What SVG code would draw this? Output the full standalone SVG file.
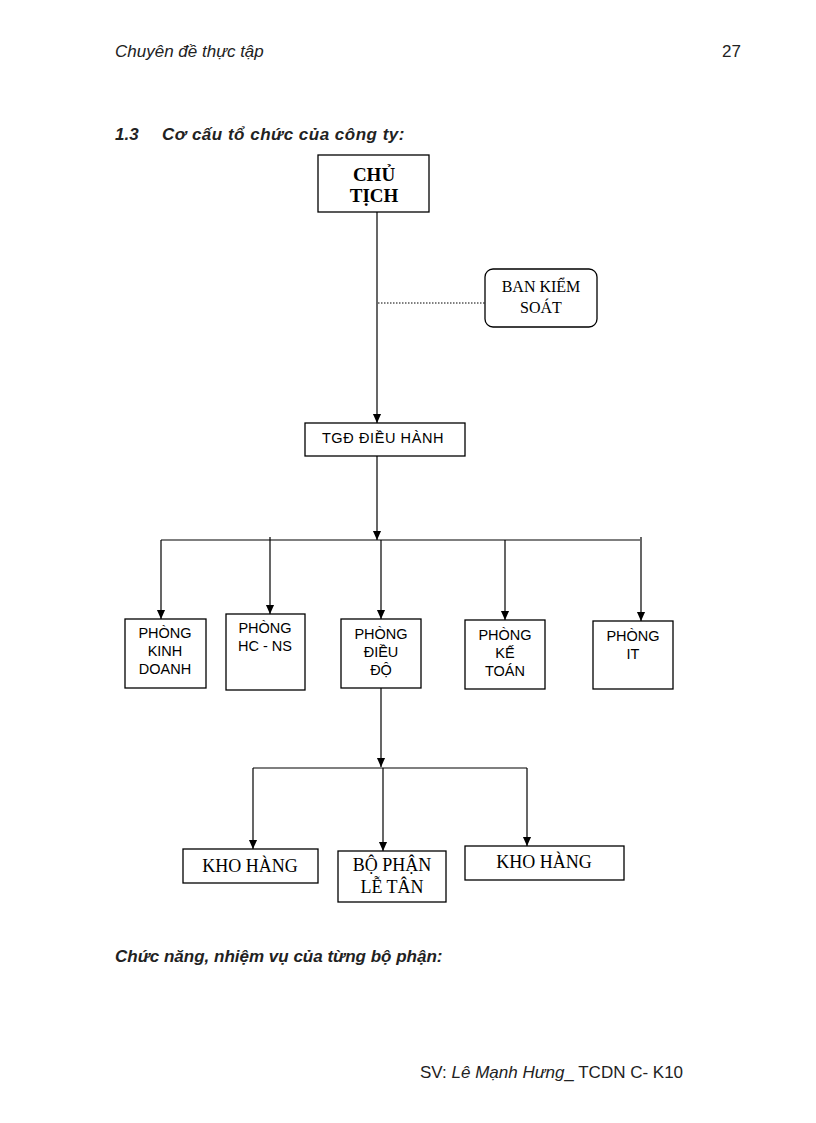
<svg xmlns="http://www.w3.org/2000/svg" width="816" height="1123" viewBox="0 0 816 1123">
<defs>
<marker id="ah" markerWidth="9" markerHeight="10" refX="10" refY="4.5" orient="auto" markerUnits="userSpaceOnUse" viewBox="0 0 10 9">
<path d="M0,0 L10,4.5 L0,9 Z" fill="#000"/>
</marker>
<style>
.box{fill:#fff;stroke:#000;stroke-width:1.3}
.ln{fill:none;stroke:#000;stroke-width:1.2}
.dot{fill:none;stroke:#000;stroke-width:1;stroke-dasharray:1.5 1.5}
.ser{font-family:"Liberation Serif","Times New Roman",serif;fill:#000;text-anchor:middle}
.san{font-family:"Liberation Sans",Arial,sans-serif;fill:#000;text-anchor:middle;font-size:14.5px}
.hdr{font-family:"Liberation Sans",Arial,sans-serif;fill:#222;font-size:17px}
</style>
</defs>
<rect width="816" height="1123" fill="#fff"/>
<text class="hdr" x="115" y="57" font-style="italic">Chuyên đề thực tập</text>
<text class="hdr" x="722" y="57">27</text>
<text class="hdr" x="115" y="140" font-style="italic" font-weight="bold" fill="#000">1.3</text>
<text class="hdr" x="162" y="140" font-style="italic" font-weight="bold" fill="#000" letter-spacing="0.5">Cơ cấu tổ chức của công ty:</text>
<g id="connectors">
<line class="ln" x1="377" y1="212" x2="377" y2="423" marker-end="url(#ah)"/>
<line class="dot" x1="378" y1="303" x2="485" y2="303"/>
<line class="ln" x1="377" y1="456" x2="377" y2="540" marker-end="url(#ah)"/>
<line class="ln" x1="161" y1="540" x2="640" y2="540"/>
<line class="ln" x1="161" y1="540" x2="161" y2="619" marker-end="url(#ah)"/>
<line class="ln" x1="270" y1="537" x2="270" y2="614" marker-end="url(#ah)"/>
<line class="ln" x1="381" y1="540" x2="381" y2="619" marker-end="url(#ah)"/>
<line class="ln" x1="505" y1="540" x2="505" y2="620" marker-end="url(#ah)"/>
<line class="ln" x1="641" y1="537" x2="641" y2="621" marker-end="url(#ah)"/>
<line class="ln" x1="381" y1="688" x2="381" y2="767" marker-end="url(#ah)"/>
<line class="ln" x1="253" y1="768" x2="527" y2="768"/>
<line class="ln" x1="253" y1="768" x2="253" y2="849" marker-end="url(#ah)"/>
<line class="ln" x1="383" y1="768" x2="383" y2="851" marker-end="url(#ah)"/>
<line class="ln" x1="527" y1="768" x2="527" y2="846" marker-end="url(#ah)"/>
</g>
<g id="chutich">
<rect class="box" x="318" y="155" width="111" height="57"/>
<text class="ser" x="374" y="181" font-size="19" font-weight="bold">CHỦ</text>
<text class="ser" x="374" y="202" font-size="19" font-weight="bold">TỊCH</text>
</g>
<g id="bankiemsoat">
<rect class="box" x="485" y="269" width="112" height="58" rx="8"/>
<text class="ser" x="541" y="292" font-size="16">BAN KIỂM</text>
<text class="ser" x="541" y="313" font-size="16">SOÁT</text>
</g>
<g id="tgd">
<rect class="box" x="305" y="423" width="160" height="33"/>
<text class="san" x="383" y="443" font-size="16" letter-spacing="0.6">TGĐ  ĐIỀU  HÀNH</text>
</g>
<g id="kinhdoanh">
<rect class="box" x="125" y="619" width="81" height="69"/>
<text class="san" x="165" y="638">PHÒNG</text>
<text class="san" x="165" y="656">KINH</text>
<text class="san" x="165" y="674">DOANH</text>
</g>
<g id="hcns">
<rect class="box" x="226" y="614" width="79" height="76"/>
<text class="san" x="265" y="633">PHÒNG</text>
<text class="san" x="265" y="651">HC - NS</text>
</g>
<g id="dieudo">
<rect class="box" x="341" y="619" width="80" height="69"/>
<text class="san" x="381" y="639">PHÒNG</text>
<text class="san" x="381" y="657">ĐIỀU</text>
<text class="san" x="381" y="675">ĐỘ</text>
</g>
<g id="ketoan">
<rect class="box" x="465" y="620" width="80" height="69"/>
<text class="san" x="505" y="640">PHÒNG</text>
<text class="san" x="505" y="658">KẾ</text>
<text class="san" x="505" y="676">TOÁN</text>
</g>
<g id="it">
<rect class="box" x="593" y="621" width="80" height="68"/>
<text class="san" x="633" y="641">PHÒNG</text>
<text class="san" x="633" y="659">IT</text>
</g>
<g id="khohang1">
<rect class="box" x="183" y="849" width="135" height="34"/>
<text class="ser" x="250" y="872" font-size="18">KHO HÀNG</text>
</g>
<g id="lettan">
<rect class="box" x="338" y="851" width="108" height="51"/>
<text class="ser" x="392" y="871" font-size="18">BỘ PHẬN</text>
<text class="ser" x="392" y="893" font-size="18">LỄ TÂN</text>
</g>
<g id="khohang2">
<rect class="box" x="465" y="846" width="159" height="34"/>
<text class="ser" x="544" y="868" font-size="18">KHO HÀNG</text>
</g>
<text class="hdr" x="115" y="962" font-style="italic" font-weight="bold" fill="#000">Chức năng,  nhiệm  vụ của từng  bộ phận:</text>
<text class="hdr" x="420" y="1078">SV: <tspan font-style="italic">Lê Mạnh Hưng</tspan>_ TCDN  C- K10</text>
</svg>
